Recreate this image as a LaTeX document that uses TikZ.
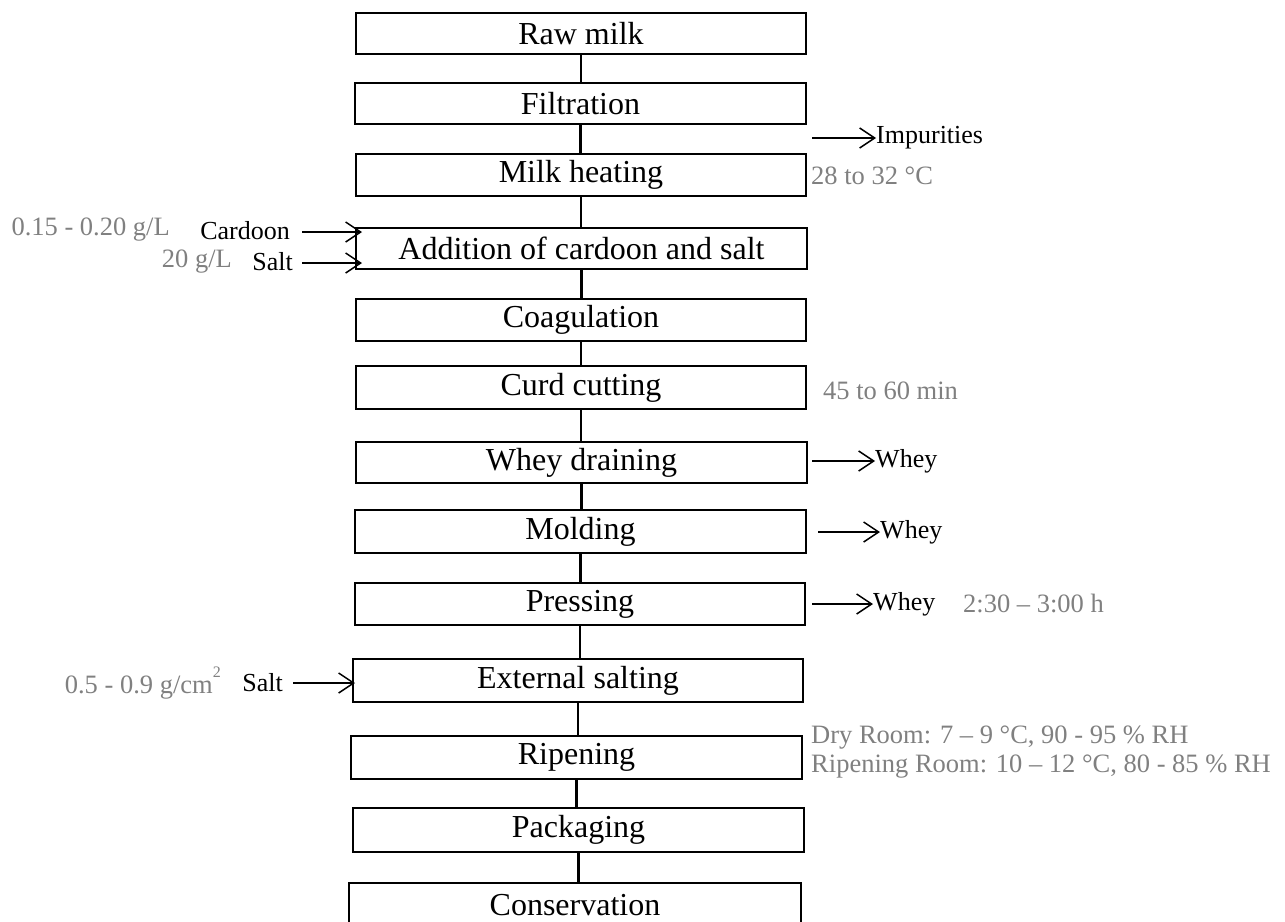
\documentclass[tikz,border=0pt]{standalone}
\usepackage{fontspec}
\setmainfont{Liberation Serif}
\usetikzlibrary{arrows.meta}
\definecolor{notegray}{RGB}{128,128,128}
\begin{document}
\begin{tikzpicture}[x=1pt,y=1pt,
  stepbox/.style={draw=black,line width=2.8pt,inner sep=0pt,
    font=\fontsize{32}{36}\selectfont},
  flow/.style={line width=2.8pt},
  arr/.style={line width=1.5pt,-{Straight Barb[length=15pt,width=20pt,line width=1.5pt]}},
  side/.style={inner sep=0pt,font=\fontsize{26}{30}\selectfont},
  note/.style={inner sep=0pt,text=notegray,font=\fontsize{26.5}{29}\selectfont}]
\useasboundingbox (0,0) rectangle (1285,-921);
\clip (0,0) rectangle (1285,-921);

% process steps
\node[stepbox,minimum width=450pt,minimum height=41pt] (raw)  at (581,-33.5)  {Raw milk};
\node[stepbox,minimum width=451pt,minimum height=41pt] (filt) at (580.5,-103.5) {Filtration};
\node[stepbox,minimum width=450pt,minimum height=42pt] (heat) at (581,-175)   {Milk heating};
\node[stepbox,minimum width=451pt,minimum height=41pt] (add)  at (581.5,-248.5) {Addition of cardoon and salt};
\node[stepbox,minimum width=450pt,minimum height=42pt] (coag) at (581,-320)   {Coagulation};
\node[stepbox,minimum width=450pt,minimum height=43pt] (cut)  at (581,-387.5) {Curd cutting};
\node[stepbox,minimum width=451pt,minimum height=41pt] (drain) at (581.5,-462.5) {Whey draining};
\node[stepbox,minimum width=451pt,minimum height=43pt] (mold) at (580.5,-531.5) {Molding};
\node[stepbox,minimum width=450pt,minimum height=42pt] (press) at (580,-604)  {Pressing};
\node[stepbox,minimum width=450pt,minimum height=43pt] (salt) at (578,-680.5) {External salting};
\node[stepbox,minimum width=451pt,minimum height=43pt] (ripe) at (576.5,-757.5) {Ripening};
\node[stepbox,minimum width=451pt,minimum height=44pt] (pack) at (578.5,-830) {Packaging};
\node[stepbox,minimum width=452pt,minimum height=44pt] (cons) at (575,-905)   {Conservation};

% main line
\foreach \a/\b in {raw/filt,filt/heat,heat/add,add/coag,coag/cut,cut/drain,
                   drain/mold,mold/press,press/salt,salt/ripe,ripe/pack,pack/cons}
  \draw[flow] (\a.south) -- (\a.south |- \b.north);

% outputs
\node[side,anchor=west] (imp) at (876,-138) {Impurities};
\coordinate (impS) at (812,-138);
\draw[arr] (impS) -- (imp.west);

\node[side,anchor=west] (wh1) at (875,-461) {Whey};
\coordinate (wh1S) at (812,-461);
\draw[arr] (wh1S) -- (wh1.west);

\node[side,anchor=west] (wh2) at (880,-532) {Whey};
\coordinate (wh2S) at (818,-532);
\draw[arr] (wh2S) -- (wh2.west);

\node[side,anchor=west] (wh3) at (873,-604) {Whey};
\coordinate (wh3S) at (812,-604);
\draw[arr] (wh3S) -- (wh3.west);

% inputs
\node[side,anchor=east] (card) at (290,-231) {Cardoon};
\coordinate (cardE) at (362,-232);
\draw[arr] ([xshift=12pt]card.east |- cardE) -- (cardE);

\node[side,anchor=east] (salt1) at (293,-262) {Salt};
\coordinate (salt1E) at (362,-263);
\draw[arr] ([xshift=9pt]salt1.east |- salt1E) -- (salt1E);

\node[side,anchor=east] (salt2) at (283,-683) {Salt};
\coordinate (salt2E) at (355,-683);
\draw[arr] ([xshift=10pt]salt2.east |- salt2E) -- (salt2E);

% process conditions
\node[note,anchor=east] (q1) at (170,-230) {0.15 - 0.20 g/L};
\node[note,anchor=east] (q2) at (232,-262) {20 g/L};
\node[note,anchor=east] (q3) at (221,-683) {0.5 - 0.9 g/cm\raisebox{0.6em}{\fontsize{16}{16}\selectfont 2}};
\node[note,anchor=west] (t1) at (811,-176) {28 to 32 °C};
\node[note,anchor=west] (t2) at (823,-391) {45 to 60 min};
\node[note,anchor=west] (t3) at (963,-603) {2:30 – 3:00 h};
\node[note,anchor=west,align=left] (t4) at (811,-752) {Dry Room: 7 – 9 °C, 90 - 95 \% RH\\Ripening Room: 10 – 12 °C, 80 - 85 \% RH};
\end{tikzpicture}
\end{document}
